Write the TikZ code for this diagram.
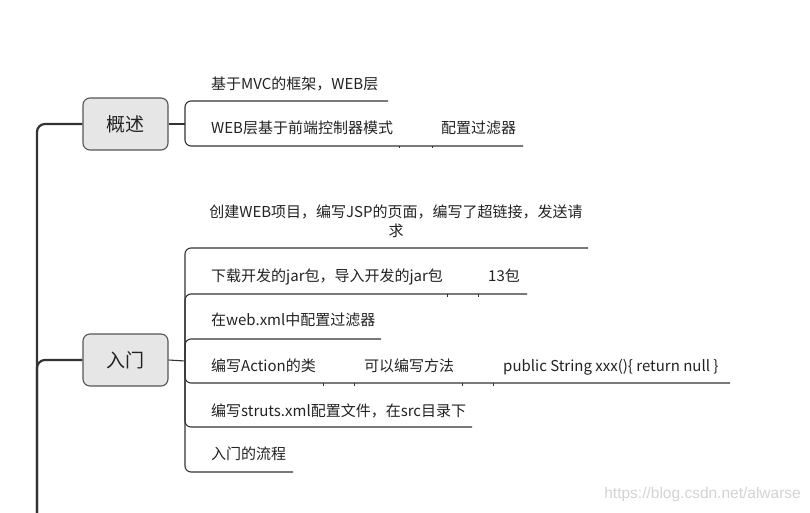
\documentclass[tikz,border=0pt]{standalone}
\usepackage{fontspec}
\newfontfamily\cjk{Noto Sans CJK SC}
\newfontfamily\wmfont{Liberation Sans}
\definecolor{cline}{HTML}{333333}
\definecolor{cborder}{HTML}{555555}
\definecolor{cfill}{HTML}{E6E6E6}
\definecolor{ctext}{HTML}{222222}
\definecolor{cwm}{HTML}{D3D3D3}
\begin{document}
\begin{tikzpicture}[x=1pt,y=-1pt,
  topic/.style={draw=cborder, fill=cfill, rounded corners=7pt, minimum width=85pt, minimum height=52pt, line width=1.1pt, inner sep=0pt, font=\cjk\fontsize{19}{22}\selectfont, text=ctext},
  item/.style={anchor=base west, inner sep=0pt, font=\cjk\fontsize{15}{18}\selectfont, text=ctext},
  trunk/.style={line width=2.2pt, draw=cline, rounded corners=8pt},
  link/.style={line width=1.1pt, draw=cline, rounded corners=6pt},
  tick/.style={line width=0.8pt, draw=cline}]
\useasboundingbox (0,0) rectangle (810,513);

% main topics
\node[topic] (gs) at (125.5,124) {概述};
\node[topic] (rm) at (125.5,360) {入门};

% trunk
\coordinate (trunkbot) at (37,516);
\draw[trunk] (gs.west) -| (trunkbot);
\draw[trunk] (rm.west) -| (trunkbot);

% ---- 概述 children
\coordinate (gsj) at (185,124);
\draw[link] (gs.east) -- (gsj);
\node[item] (g1) at (211,90) {基于MVC的框架，WEB层};
\node[item] (g2) at (211,134) {WEB层基于前端控制器模式};
\node[item] (g2a) at (441,134) {配置过滤器};
\coordinate (g1e) at (388,101);
\coordinate (g2e) at (523,146);
\draw[link] (gsj) |- (g1e);
\draw[link] (gsj) |- (g2e);
\draw[tick] (399,146) -- ++(0,2.5);
\draw[tick] (432,146) -- ++(0,2.5);

% ---- 入门 children
\coordinate (rmj) at (185,361);
\draw[link] (rm.east) -- (rmj);
\node[anchor=base, inner sep=0pt, align=center, font=\cjk\fontsize{15}{19}\selectfont, text=ctext] (r1) at (396,236) {创建WEB项目，编写JSP的页面，编写了超链接，发送请\\求};
\node[item] (r2) at (211,281) {下载开发的jar包，导入开发的jar包};
\node[item] (r2a) at (488,281) {13包};
\node[item] (r3) at (211,325) {在web.xml中配置过滤器};
\node[item] (r4) at (211,371) {编写Action的类};
\node[item] (r4a) at (364,371) {可以编写方法};
\node[item] (r4b) at (503,371) {public String xxx()\{ return null \}};
\node[item] (r5) at (211,416) {编写struts.xml配置文件，在src目录下};
\node[item] (r6) at (211,459) {入门的流程};
\coordinate (r1e) at (588,248);
\coordinate (r2e) at (527,294);
\coordinate (r3e) at (381,339);
\coordinate (r4e) at (730,383);
\coordinate (r5e) at (472,427);
\coordinate (r6e) at (293,472);
\foreach \e in {r1e,r2e,r3e,r4e,r5e,r6e} \draw[link] (rmj) |- (\e);
\draw[tick] (447,294) -- ++(0,2.5);
\draw[tick] (478,294) -- ++(0,2.5);
\draw[tick] (323,383) -- ++(0,2.5);
\draw[tick] (354,383) -- ++(0,2.5);
\draw[tick] (462,383) -- ++(0,2.5);
\draw[tick] (493,383) -- ++(0,2.5);

% watermark
\node[anchor=base east, inner sep=0pt, font=\wmfont\fontsize{15.5}{17}\selectfont, text=cwm] (wm) at (801,498) {https://blog.csdn.net/alwarse};
\end{tikzpicture}
\end{document}
